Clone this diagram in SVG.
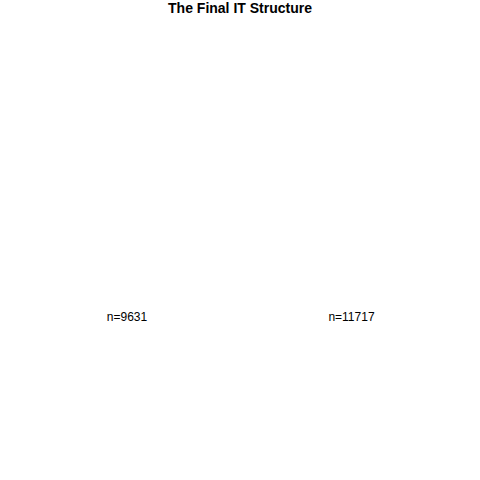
<svg xmlns="http://www.w3.org/2000/svg" width="480" height="480" viewBox="0 0 480 480">
<style>
text{font-family:"Liberation Sans",Arial,sans-serif;fill:#000}
.title{font-size:14px;font-weight:bold}
.lbl{font-size:12px}
</style>
<rect width="480" height="480" fill="#fff"/>
<text class="title" x="240" y="13" text-anchor="middle">The Final IT Structure</text>
<g id="node1"><text class="lbl" x="127" y="321" text-anchor="middle">n=9631</text></g>
<g id="node2"><text class="lbl" x="351.5" y="321" text-anchor="middle">n=11717</text></g>
<g id="connectors"></g>
</svg>
